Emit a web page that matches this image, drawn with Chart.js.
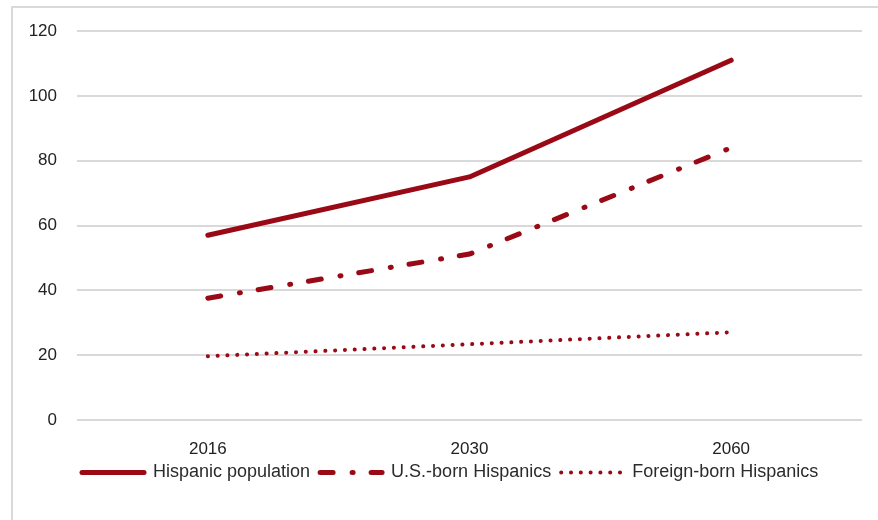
<!DOCTYPE html>
<html>
<head>
<meta charset="utf-8">
<script src="https://cdn.jsdelivr.net/npm/chart.js@4.4.1/dist/chart.umd.min.js"></script>
<style>
  body { margin: 0; background: #fff; overflow: hidden; }
  #wrap { position: relative; width: 878px; height: 520px; overflow: hidden; }
  #frame { position: absolute; left: 11px; top: 6px; width: 900px; height: 600px; border: 2px solid #d9d9d9; }
  canvas { position: absolute; left: 0; top: 0; }
</style>
</head>
<body>
<div id="wrap">
  <div id="frame"></div>
  <canvas id="popChart" width="878" height="520"></canvas>
</div>
<script>
const years = ["2016", "2030", "2060"];
const hispanicTotal = [57, 75, 111];
const usBorn = [37.6, 51.2, 84];
const foreignBorn = [19.7, 23.4, 27.1];
const yTicks = [0, 20, 40, 60, 80, 100, 120];

const RED = "#990a16";
const TICK_TEXT = "#222222";
const LEGEND_TEXT = "#2b2b2b";
const GRID = "#d9d9d9";
const FONT = "'Liberation Sans', Arial, sans-serif";

// legend sits a bit right of the plot padding and tucked up under the x labels
const legendNudge = {
  id: "legendNudge",
  afterLayout(chart) {
    const lg = chart.legend;
    lg.left += 42;
    lg.right += 42;
    lg.top -= 25;
    lg.bottom -= 25;
  },
};

const ctx = document.getElementById("popChart").getContext("2d");
new Chart(ctx, {
  type: "line",
  data: {
    labels: years,
    datasets: [
      {
        label: "Hispanic population",
        data: hispanicTotal,
        borderColor: RED,
        backgroundColor: RED,
        borderWidth: 5,
        borderDash: [],
        borderCapStyle: "round",
        borderJoinStyle: "round",
        pointRadius: 0,
        tension: 0,
      },
      {
        label: "U.S.-born Hispanics",
        data: usBorn,
        borderColor: RED,
        backgroundColor: RED,
        borderWidth: 5,
        borderDash: [13, 19, 1, 18],
        borderCapStyle: "round",
        pointRadius: 0,
        tension: 0,
      },
      {
        label: "Foreign-born Hispanics",
        data: foreignBorn,
        borderColor: RED,
        backgroundColor: RED,
        borderWidth: 4,
        borderDash: [0.1, 9.7],
        borderCapStyle: "round",
        pointRadius: 0,
        tension: 0,
      },
    ],
  },
  plugins: [legendNudge],
  options: {
    responsive: false,
    animation: false,
    layout: { padding: { left: 30, right: 16, top: 31, bottom: 3.5 } },
    plugins: {
      title: { display: false },
      tooltip: { enabled: false },
      legend: {
        position: "bottom",
        align: "start",
        labels: {
          usePointStyle: true,
          pointStyle: "line",
          pointStyleWidth: 62,
          padding: 10,
          color: LEGEND_TEXT,
          font: { family: FONT, size: 18 },
          generateLabels: (chart) => {
            const items = Chart.defaults.plugins.legend.labels.generateLabels(chart);
            return items.map((item) => {
              const ds = chart.data.datasets[item.datasetIndex];
              return {
                ...item,
                pointStyle: "line",
                strokeStyle: ds.borderColor,
                lineWidth: ds.borderWidth,
                lineDash: ds.borderDash,
                lineCap: "round",
              };
            });
          },
        },
      },
    },
    scales: {
      x: {
        offset: true,
        grid: { display: false, drawTicks: false },
        border: { display: false },
        ticks: {
          padding: 19,
          color: TICK_TEXT,
          font: { family: FONT, size: 17 },
        },
      },
      y: {
        min: 0,
        max: 120,
        afterBuildTicks: (scale) => { scale.ticks = yTicks.map(v => ({ value: v })); },
        grid: { color: GRID, lineWidth: 2, drawTicks: false },
        border: { display: false },
        ticks: {
          padding: 20,
          color: TICK_TEXT,
          font: { family: FONT, size: 17 },
        },
        afterFit: (scale) => { scale.width = 47; },
      },
    },
  },
});
</script>
</body>
</html>
